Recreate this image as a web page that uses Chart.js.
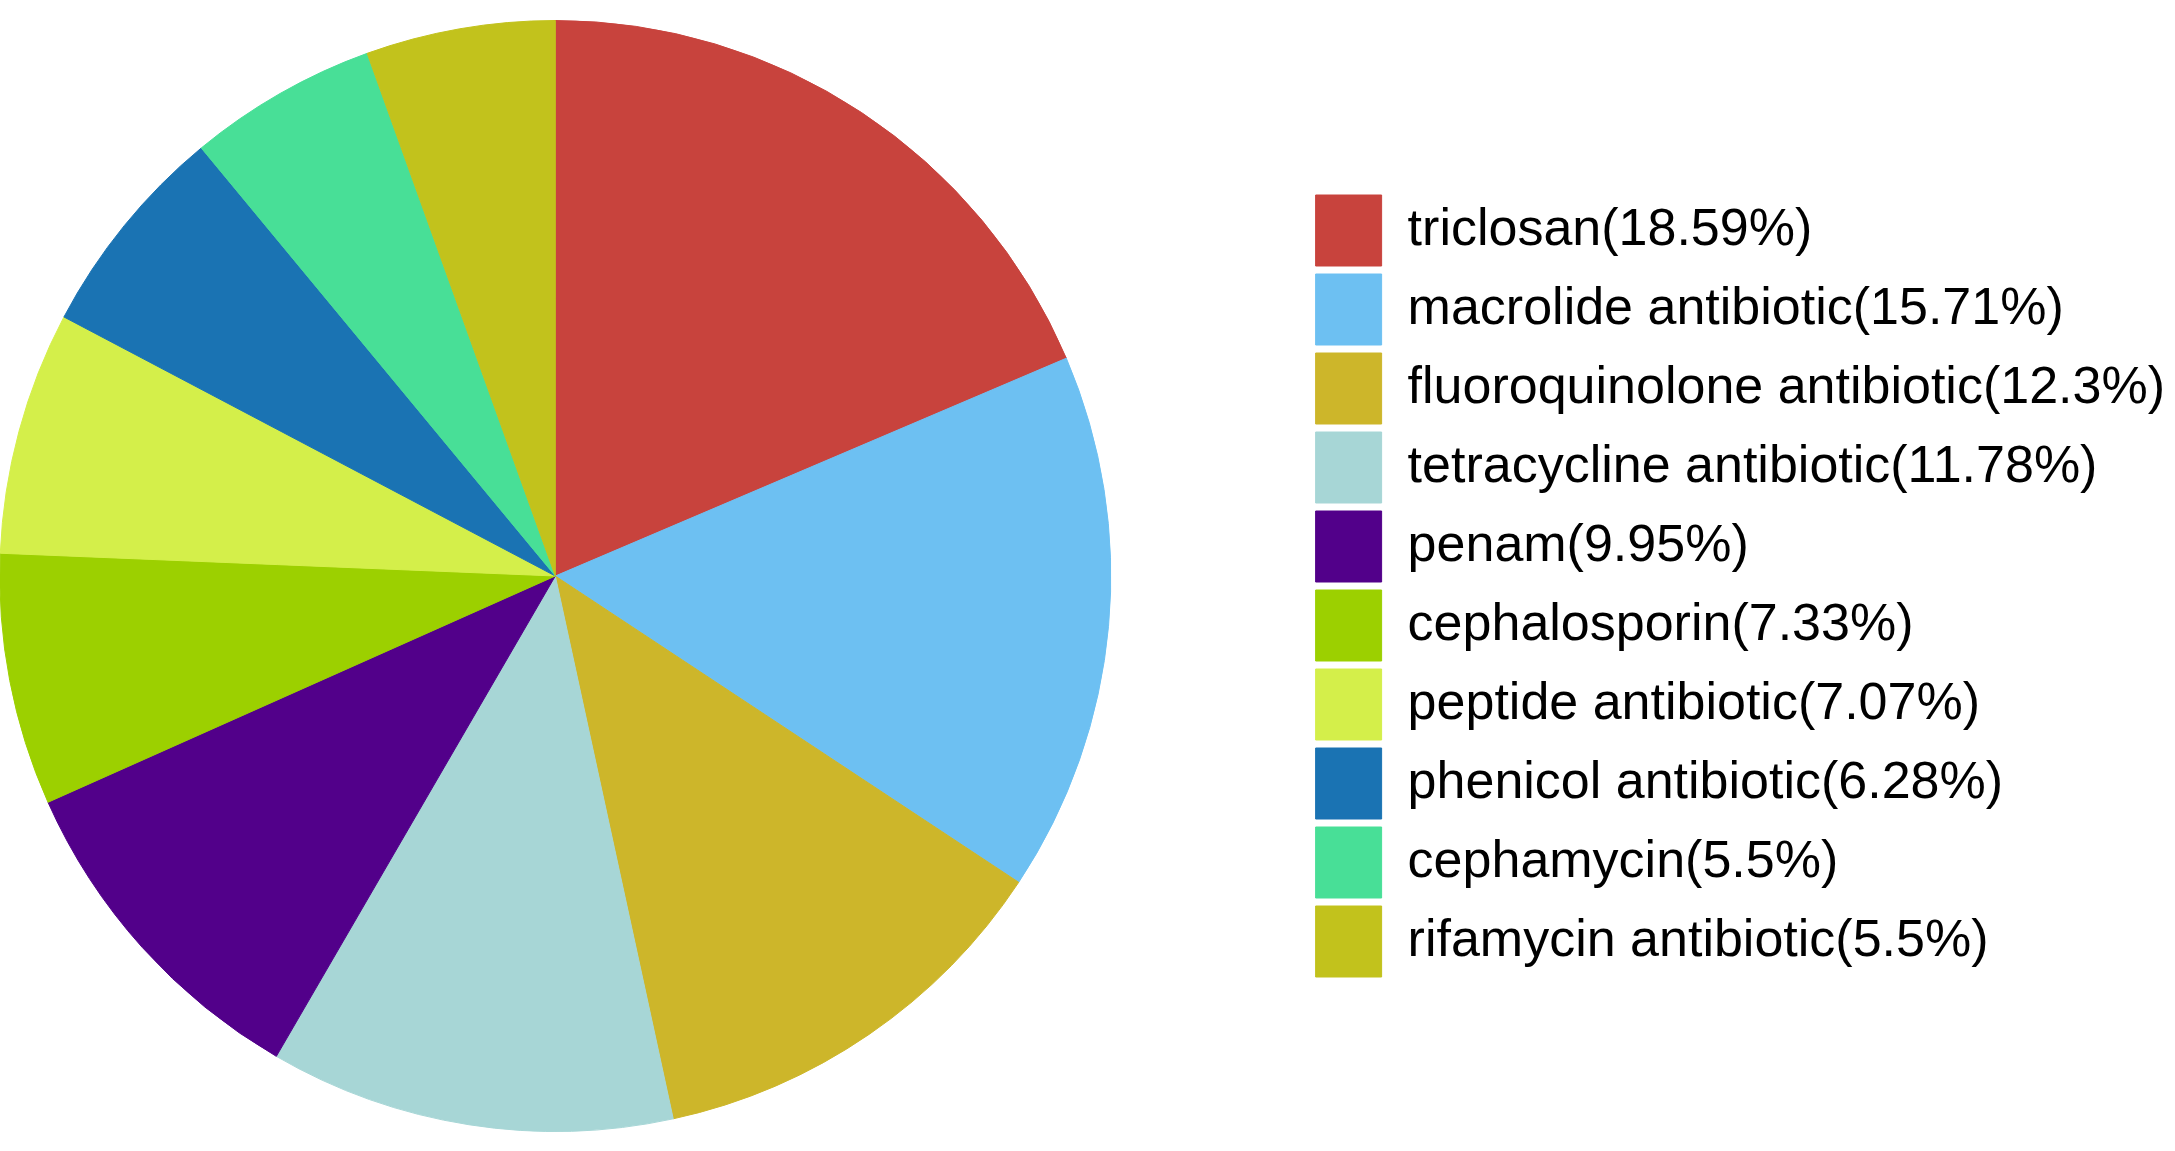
<!DOCTYPE html>
<html>
<head>
<meta charset="utf-8">
<script src="https://cdn.jsdelivr.net/npm/chart.js@4.4.1/dist/chart.umd.min.js"></script>
<style>
  html, body { margin: 0; padding: 0; background: #ffffff; overflow: hidden; }
  #wrap { width: 2175px; height: 1151px; position: relative; overflow: hidden; }
  #inner { position: absolute; left: -197px; top: 0; width: 2372px; height: 1151px; }
</style>
</head>
<body>
<div id="wrap"><div id="inner"><canvas id="c"></canvas></div></div>
<script>
const categories = [
  'triclosan',
  'macrolide antibiotic',
  'fluoroquinolone antibiotic',
  'tetracycline antibiotic',
  'penam',
  'cephalosporin',
  'peptide antibiotic',
  'phenicol antibiotic',
  'cephamycin',
  'rifamycin antibiotic'
];
const percentages = [18.59, 15.71, 12.3, 11.78, 9.95, 7.33, 7.07, 6.28, 5.5, 5.5];
const colors = [
  '#C8433D', '#6DC0F2', '#CDB62A', '#A7D6D6', '#52008A',
  '#9CD000', '#D4EF4A', '#1A73B3', '#48DF97', '#C2C21C'
];
const legendLabels = categories.map((c, i) => c + '(' + percentages[i] + '%)');

Chart.defaults.font.family = "'Liberation Sans', Arial, sans-serif";

new Chart(document.getElementById('c'), {
  type: 'pie',
  data: {
    labels: legendLabels,
    datasets: [{
      data: percentages,
      backgroundColor: colors,
      borderColor: colors,
      borderWidth: 1
    }]
  },
  options: {
    responsive: true,
    maintainAspectRatio: false,
    animation: false,
    layout: { padding: { left: 0, right: 0, top: 20, bottom: 19 } },
    plugins: {
      tooltip: { enabled: false },
      legend: {
        position: 'right',
        align: 'center',
        title: { display: true, text: '', padding: 0, font: { size: 16, lineHeight: 1.25 } },
        labels: {
          boxWidth: 66,
          boxHeight: 71,
          padding: 8,
          color: '#000000',
          font: { size: 52, family: "'Liberation Sans', Arial, sans-serif" }
        }
      }
    }
  }
});
</script>
</body>
</html>
